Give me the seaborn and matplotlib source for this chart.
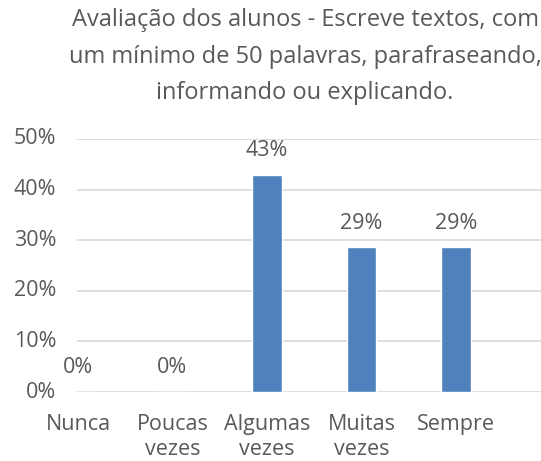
import matplotlib
matplotlib.use("Agg")
import matplotlib.pyplot as plt
import seaborn as sns
import pandas as pd

categories = ["Nunca", "Poucas\nvezes", "Algumas\nvezes", "Muitas\nvezes", "Sempre"]
values = [0.0, 0.0, 0.4286, 0.2857, 0.2857]
yticks = [0, 0.1, 0.2, 0.3, 0.4, 0.5]
title = "Avaliação dos alunos - Escreve textos, com\num mínimo de 50 palavras, parafraseando,\ninformando ou explicando."

sns.set_theme(style="white")
plt.rcParams['font.family'] = ['Open Sans', 'DejaVu Sans']
gray = "#595959"

df = pd.DataFrame({"cat": categories, "val": values})
fig = plt.figure(figsize=(5.41, 4.61), dpi=100)
ax = fig.add_axes([77/541, 69/461, 1 - 77/541, 253/461])
sns.barplot(data=df, x="cat", y="val", color="#4F81BD", width=0.31, saturation=1, ax=ax, zorder=3)

ax.set_ylim(0, 0.5)
ax.set_xlim(-0.01, 4.9)
ax.set_yticks(yticks)
ax.set_yticklabels([f"{int(round(t*100))}%" for t in yticks], color=gray, fontsize=15.5)
ax.tick_params(axis='y', length=0, pad=15)
ax.tick_params(axis='x', length=0, pad=16)
ax.set_xticks(range(len(categories)))
ax.set_xticklabels(categories, color=gray, fontsize=15.5, linespacing=1.25)
for lbl in ax.get_yticklabels():
    lbl.set_verticalalignment('center')
ax.set_xlabel("")
ax.set_ylabel("")
ax.yaxis.grid(True, color="#D9D9D9", linewidth=1.2, zorder=0)
for s in ax.spines.values():
    s.set_visible(False)

for i, v in enumerate(values):
    ax.annotate(f"{round(v*100):.0f}%", (i, v), xytext=(0, 10), textcoords="offset points",
                ha="center", va="bottom", color=gray, fontsize=15.5)

fig.text(305/541, 1 - 8/461, title, ha="center", va="top", color=gray, fontsize=17, linespacing=1.7)

fig.savefig("out.png", dpi=100)
